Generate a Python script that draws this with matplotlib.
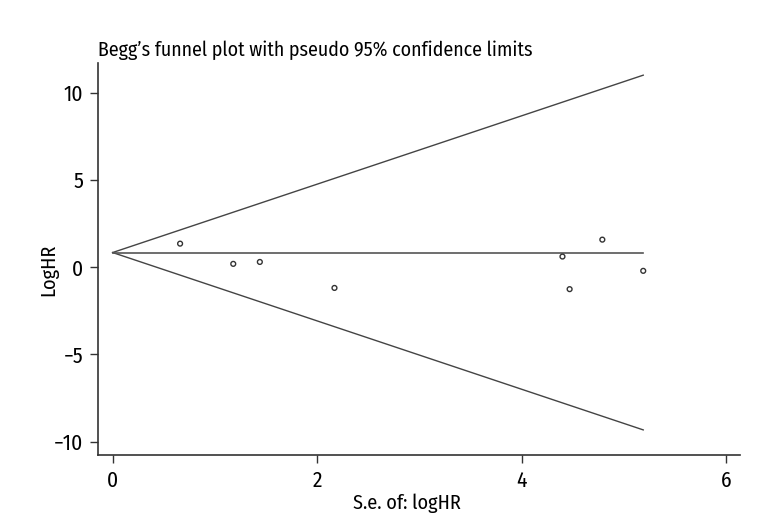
import numpy as np
import matplotlib.pyplot as plt
from matplotlib import font_manager

# Données
se = [0.66, 1.18, 1.44, 2.17, 4.40, 4.47, 4.79, 5.19]
loghr = [1.35, 0.19, 0.30, -1.19, 0.61, -1.26, 1.58, -0.21]
moyenne = 0.84
x_ticks = [0, 2, 4, 6]
y_ticks = [-10, -5, 0, 5, 10]
y_labels = ['\u221210', '\u22125', '0', '5', '10']

# Police étroite (proche de Myriad Condensed) si disponible
noms = {f.name for f in font_manager.fontManager.ttflist}
police = 'DejaVu Sans'
for p in ['Fira Sans Condensed', 'PT Sans Narrow', 'Roboto Condensed', 'Asap Condensed',
          'Barlow Semi Condensed', 'Archivo Narrow', 'Liberation Sans Narrow']:
    if p in noms:
        police = p
        break
plt.rcParams['font.family'] = [police, 'DejaVu Sans']

fig = plt.figure(figsize=(7.68, 5.28), dpi=100)
ax = fig.add_axes([0.128, 0.138, 0.836, 0.742])

# Limites pseudo 95%
s_max = max(se)
xs = np.array([0, s_max])
ax.plot(xs, moyenne + 1.96 * xs, color='#444444', lw=1)
ax.plot(xs, moyenne - 1.96 * xs, color='#444444', lw=1)
ax.plot(xs, [moyenne, moyenne], color='#555555', lw=1.2)

ax.scatter(se, loghr, s=12, facecolors='none', edgecolors='#333333', linewidths=1, zorder=3)

ax.set_xlim(-0.14, 6.14)
ax.set_ylim(-10.78, 11.69)
ax.set_xticks(x_ticks)
ax.set_yticks(y_ticks)
ax.set_yticklabels(y_labels)

for s in ['top', 'right']:
    ax.spines[s].set_visible(False)
for s in ['left', 'bottom']:
    ax.spines[s].set_color('#333333')
    ax.spines[s].set_linewidth(1.2)
ax.tick_params(axis='both', length=6, width=1, color='#333333', labelsize=15.5, pad=5)

ax.set_xlabel('S.e. of: logHR', fontsize=14.5)
ax.xaxis.set_label_coords(0.48, -0.098)
ax.set_ylabel('LogHR', fontsize=14.5)
ax.yaxis.set_label_coords(-0.062, 0.473)
ax.set_title('Begg\u2019s funnel plot with pseudo 95% confidence limits', loc='left', fontsize=14.3, pad=5)

fig.savefig('out.png', dpi=100)
